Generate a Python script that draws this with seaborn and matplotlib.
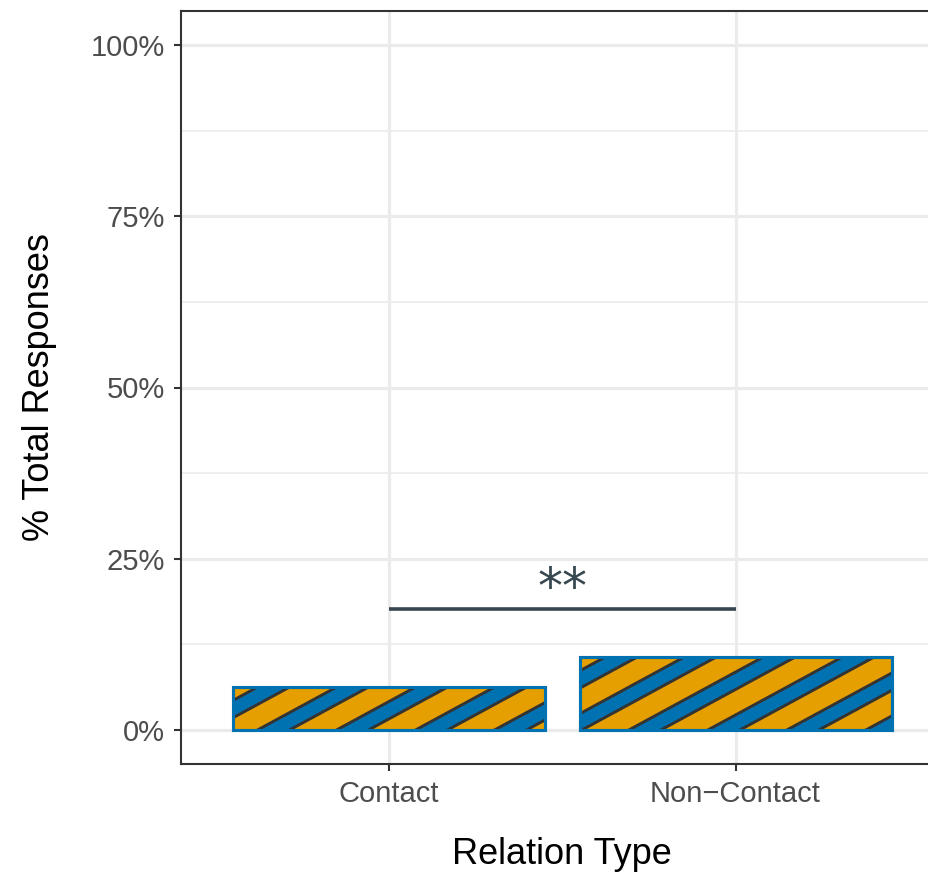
import numpy as np
import pandas as pd
import matplotlib
matplotlib.use("Agg")
import matplotlib.pyplot as plt
import seaborn as sns
from matplotlib.patches import Polygon, Rectangle
from matplotlib.lines import Line2D
from matplotlib.transforms import IdentityTransform
from matplotlib.ticker import FixedLocator, MultipleLocator, FuncFormatter

# ---- data ----
relation = ["Contact", "Non\u2212Contact"]
pct_responses = [6.3, 10.6]
y_ticks = [0, 25, 50, 75, 100]
sig_label = "**"
sig_level = 17.7

# ---- colours ----
ORANGE = "#E69F00"
BLUE = "#0072B2"
STRIPE_LINE = "#333333"
SIG_COLOR = "#37474F"
BORDER = "#333333"
GRID = "#EBEBEB"

# stripe pattern (pixel units)
STRIPE_ANGLE = 28.5
STRIPE_PERIOD = 79.0
STRIPE_WIDTH = 32.0
STRIPE_OFFSET = 25.0

sns.set_theme(style="white")
plt.rcParams["font.family"] = ["Liberation Sans", "DejaVu Sans"]

W, H = 929, 873
fig = plt.figure(figsize=(W / 100, H / 100), dpi=100)
fig.patch.set_facecolor("white")
ax = fig.add_axes([181 / W, 108.75 / H, 762.5 / W, 753.5 / H])

df = pd.DataFrame({"relation": relation, "pct": pct_responses})
sns.barplot(data=df, x="relation", y="pct", color=ORANGE, saturation=1,
            width=0.9, edgecolor=BLUE, linewidth=2.2, ax=ax, zorder=3)

ax.set_xlim(-0.6, 1.6)
ax.set_ylim(-5, 105)

# grid
ax.set_axisbelow(True)
ax.yaxis.set_major_locator(FixedLocator(y_ticks))
ax.yaxis.set_minor_locator(MultipleLocator(12.5))
ax.yaxis.set_major_formatter(FuncFormatter(lambda v, p: f"{v:.0f}%"))
ax.grid(which="major", axis="both", color=GRID, linewidth=2.3, zorder=0)
ax.grid(which="minor", axis="y", color=GRID, linewidth=1.2, zorder=0)

for side in ["left", "right", "top", "bottom"]:
    ax.spines[side].set_visible(True)
    ax.spines[side].set_color(BORDER)
    ax.spines[side].set_linewidth(1.5)

ax.tick_params(which="major", axis="both", length=5, width=1.5, color=BORDER,
               labelsize=21, labelcolor="#4D4D4D", pad=6.5,
               left=True, bottom=True)
ax.tick_params(which="minor", length=0)

ax.set_xlabel("Relation Type", fontsize=26, color="black", labelpad=21)
ax.set_ylabel("% Total Responses", fontsize=26, color="black", labelpad=24)

# striped fill clipped to each bar
fig.canvas.draw()
t = np.tan(np.radians(STRIPE_ANGLE))
bars = list(ax.patches)
for bar in bars:
    bb = bar.get_window_extent()
    x0, x1, y0, y1 = bb.x0, bb.x1, bb.y0, bb.y1
    clip_path, clip_trans = bar.get_path(), bar.get_transform()
    k0 = x0 - y1 / t + STRIPE_OFFSET
    kmin = x0 - y1 / t - STRIPE_PERIOD
    kmax = x1 - y0 / t + STRIPE_PERIOD
    n_lo = int(np.floor((kmin - k0) / STRIPE_PERIOD))
    n_hi = int(np.ceil((kmax - k0) / STRIPE_PERIOD))
    ylo, yhi = y0 - 6, y1 + 6
    for n in range(n_lo, n_hi + 1):
        k = k0 + n * STRIPE_PERIOD
        pts = [(k + ylo / t, ylo), (k + STRIPE_WIDTH + ylo / t, ylo),
               (k + STRIPE_WIDTH + yhi / t, yhi), (k + yhi / t, yhi)]
        poly = Polygon(pts, closed=True, transform=IdentityTransform(),
                       facecolor=BLUE, edgecolor="none", zorder=3.2)
        poly.set_clip_path(clip_path, clip_trans)
        ax.add_artist(poly)
        for kk in (k, k + STRIPE_WIDTH):
            ln = Line2D([kk + ylo / t, kk + yhi / t], [ylo, yhi],
                        transform=IdentityTransform(), color=STRIPE_LINE,
                        linewidth=2.1, solid_capstyle="butt", zorder=3.3)
            ln.set_clip_path(clip_path, clip_trans)
            ax.add_artist(ln)
    ax.add_artist(Rectangle((bar.get_x(), bar.get_y()), bar.get_width(),
                            bar.get_height(), fill=False, edgecolor=BLUE,
                            linewidth=2.2, zorder=3.5))

# significance bracket
ax.plot([0, 1], [sig_level, sig_level], color=SIG_COLOR, linewidth=2.6,
        solid_capstyle="butt", zorder=4)
ax.annotate(sig_label, xy=(0.5, sig_level), xytext=(0, -3),
            textcoords="offset points", ha="center", va="bottom",
            fontsize=36, color=SIG_COLOR, family=["DejaVu Sans"], zorder=4)

fig.savefig("out.png", dpi=100)
